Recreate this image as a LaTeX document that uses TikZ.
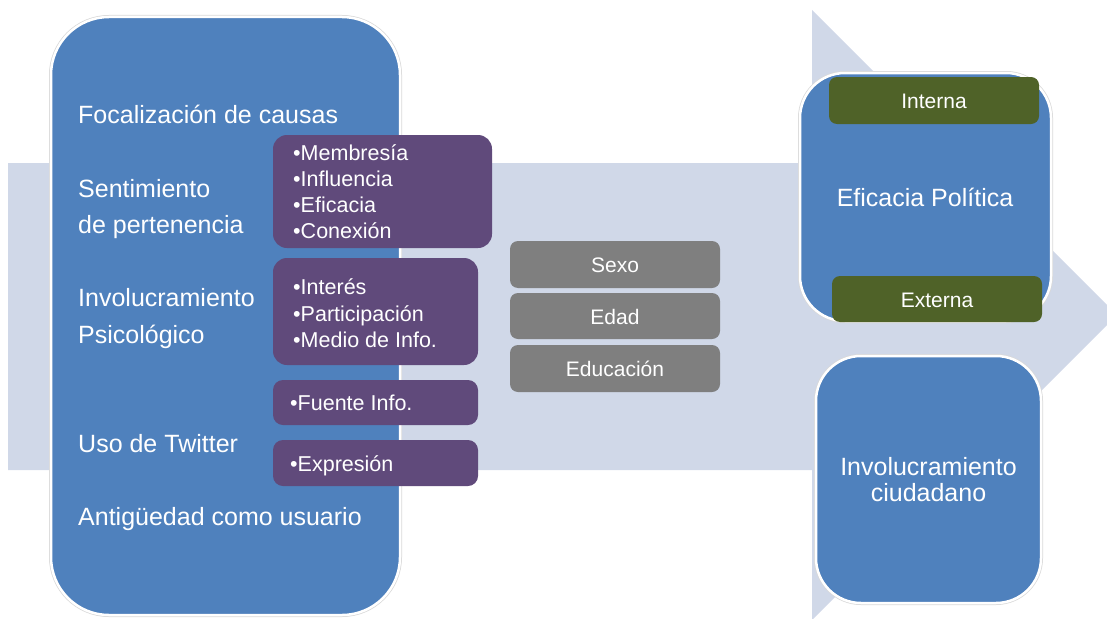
\documentclass[tikz,border=0pt]{standalone}
\usepackage{fontspec}
\setmainfont{Liberation Sans}
\definecolor{arrowc}{HTML}{D0D8E8}
\definecolor{bluec}{HTML}{4F81BD}
\definecolor{purplec}{HTML}{604A7B}
\definecolor{grayc}{HTML}{7F7F7F}
\definecolor{greenc}{HTML}{4F6228}
\definecolor{edgec}{HTML}{D9D9D9}
\begin{document}
\begin{tikzpicture}[x=1pt,y=-1pt,
  bluebox/.style={rectangle, fill=bluec, draw=white, line width=2.5pt, rounded corners=#1, inner sep=0pt,
    preaction={draw=edgec, line width=4pt}},
  purplebox/.style={rectangle, fill=purplec, rounded corners=14pt, inner sep=0pt},
  graybox/.style={rectangle, fill=grayc, rounded corners=8pt, inner sep=0pt},
  greenbox/.style={rectangle, fill=greenc, rounded corners=8pt, inner sep=0pt},
  bigtxt/.style={text=white, font=\fontsize{25}{30}\selectfont, inner sep=0pt, anchor=base west},
  bigctr/.style={text=white, font=\fontsize{25}{30}\selectfont, inner sep=0pt, anchor=base},
  bultxt/.style={text=white, font=\fontsize{21.5}{26}\selectfont, inner sep=0pt, anchor=base west},
  smalltxt/.style={text=white, font=\fontsize{21}{26}\selectfont, inner sep=0pt, anchor=base}]
\useasboundingbox (0,0) rectangle (1107,618);
\begin{scope}
\clip (0,0) rectangle (1107,618);
\fill[arrowc] (8,163) -- (812,163) -- (812,10) -- (1117,315) -- (812,620) -- (812,470) -- (8,470) -- cycle;
\end{scope}
% left box
\node[bluebox=58pt, minimum width=349pt, minimum height=598pt] (left) at (225.5,316) {};
\node[bigtxt] (t1) at (78,123) {Focalización de causas};
\node[bigtxt] (t2a) at (78,197) {Sentimiento};
\node[bigtxt] (t2b) at (78,233) {de pertenencia};
\node[bigtxt] (t3a) at (78,306) {Involucramiento};
\node[bigtxt] (t3b) at (78,343) {Psicológico};
\node[bigtxt] (t4) at (78,452) {Uso de Twitter};
\node[bigtxt] (t5) at (78,525) {Antigüedad como usuario};
% purple boxes
\node[purplebox, minimum width=219pt, minimum height=113pt] (p1) at (382.5,191.5) {};
\node[purplebox, minimum width=205pt, minimum height=107pt] (p2) at (375.5,311.5) {};
\node[purplebox, minimum width=205pt, minimum height=45pt, rounded corners=10pt] (p3) at (375.5,402.5) {};
\node[purplebox, minimum width=205pt, minimum height=46pt, rounded corners=10pt] (p4) at (375.5,463) {};
\node[bultxt] (b1) at (293,160) {•Membresía};
\node[bultxt] (b2) at (293,186) {•Influencia};
\node[bultxt] (b3) at (293,212) {•Eficacia};
\node[bultxt] (b4) at (293,238) {•Conexión};
\node[bultxt] (b5) at (293,294) {•Interés};
\node[bultxt] (b6) at (293,321) {•Participación};
\node[bultxt] (b7) at (293,347) {•Medio de Info.};
\node[bultxt] (b8) at (290,410) {•Fuente Info.};
\node[bultxt] (b9) at (290,471) {•Expresión};
% gray boxes
\node[graybox, minimum width=210pt, minimum height=47pt] (g1) at (615,264.5) {};
\node[graybox, minimum width=210pt, minimum height=46pt] (g2) at (615,316) {};
\node[graybox, minimum width=210pt, minimum height=47pt] (g3) at (615,368.5) {};
\node[smalltxt] (s1) at (615,272) {Sexo};
\node[smalltxt] (s2) at (615,324) {Edad};
\node[smalltxt] (s3) at (615,376) {Educación};
% right boxes
\node[bluebox=45pt, minimum width=251pt, minimum height=248pt] (ef) at (925.5,197) {};
\node[bigctr] (eft) at (925,206) {Eficacia Política};
\node[greenbox, minimum width=210pt, minimum height=47pt] (gin) at (934,100.5) {};
\node[smalltxt] (gint) at (934,108) {Interna};
\node[greenbox, minimum width=210pt, minimum height=46pt] (gex) at (937,299) {};
\node[smalltxt] (gext) at (937,307) {Externa};
\node[bluebox=45pt, minimum width=225pt, minimum height=247pt] (inv) at (928.5,479.5) {};
\node[bigctr] (invt1) at (928.5,475) {Involucramiento};
\node[bigctr] (invt2) at (928.5,501) {ciudadano};
\end{tikzpicture}
\end{document}
